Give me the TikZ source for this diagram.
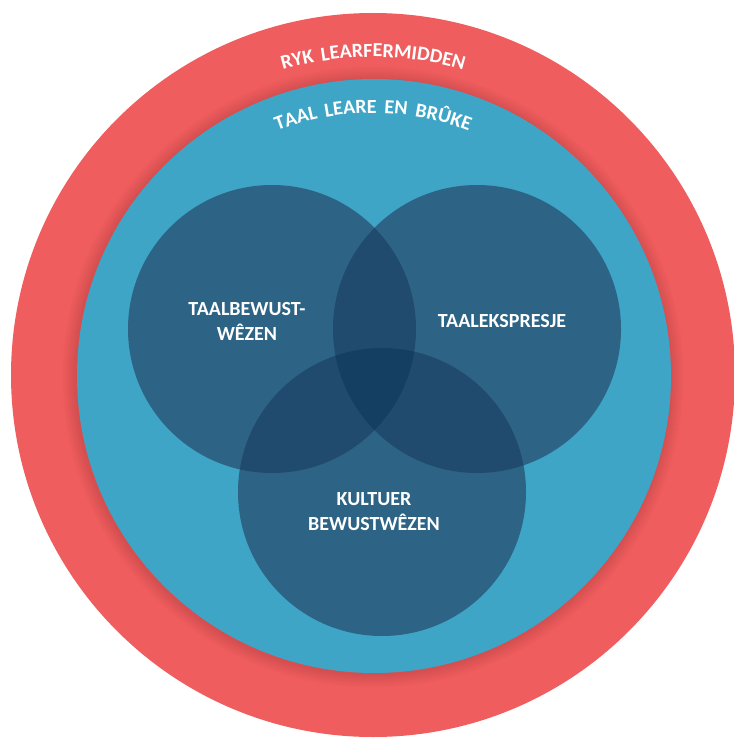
\documentclass[tikz,border=0pt]{standalone}
\usepackage{fontspec}
\setmainfont{Carlito}
\newfontfamily\arcfont{Carlito}[LetterSpace=15]
\usetikzlibrary{decorations.text}
\definecolor{ringred}{RGB}{240,93,94}
\definecolor{ringblue}{RGB}{62,165,199}
\definecolor{vennone}{RGB}{45,100,133}
\definecolor{venntwo}{RGB}{33,75,110}
\definecolor{vennthree}{RGB}{21,63,98}
\begin{document}
\begin{tikzpicture}[x=1pt,y=1pt,
  venn/.style={circle, minimum size=288pt, inner sep=0pt, fill=vennone, draw=none},
  lbl/.style={text=white, font=\bfseries\fontsize{20}{25}\selectfont, align=center},
  arctext/.style={decorate, decoration={text along path, text color=white, text align=center,
     text={|\arcfont\bfseries\fontsize{20}{22}\selectfont|#1}}}]
\useasboundingbox (0,0) rectangle (733,-738);
\coordinate (c) at (373,-375);
\fill[ringred] (c) circle (362);
\foreach \i in {1,...,14} \fill[black, opacity=0.008] ([yshift=-2pt]c) circle ({297+\i});
\node[circle, minimum size=594pt, inner sep=0pt, fill=ringblue] (inner) at (374,-376) {};
\node[venn] (left) at (272,-329) {};
\node[venn] (right) at (477,-329) {};
\node[venn] (bottom) at (382,-492) {};
\begin{scope}
  \clip (left.center) circle (144);
  \fill[venntwo] (right.center) circle (144);
  \fill[venntwo] (bottom.center) circle (144);
\end{scope}
\begin{scope}
  \clip (right.center) circle (144);
  \fill[venntwo] (bottom.center) circle (144);
\end{scope}
\begin{scope}
  \clip (left.center) circle (144);
  \clip (right.center) circle (144);
  \fill[vennthree] (bottom.center) circle (144);
\end{scope}
\node[lbl] (tbw) at (247,-321) {TAALBEWUST-\\WÊZEN};
\node[lbl] (tex) at (502,-321) {TAALEKSPRESJE};
\node[lbl] (kbw) at (374,-512) {KULTUER\\BEWUSTWÊZEN};
\path[arctext={RYK LEARFERMIDDEN}] ([shift={(130:318)}]c) arc[start angle=130, end angle=50, radius=318];
\path[arctext={TAAL LEARE EN BRÛKE}] ([shift={(135:262)}]c) arc[start angle=135, end angle=45, radius=262];
\end{tikzpicture}
\end{document}
